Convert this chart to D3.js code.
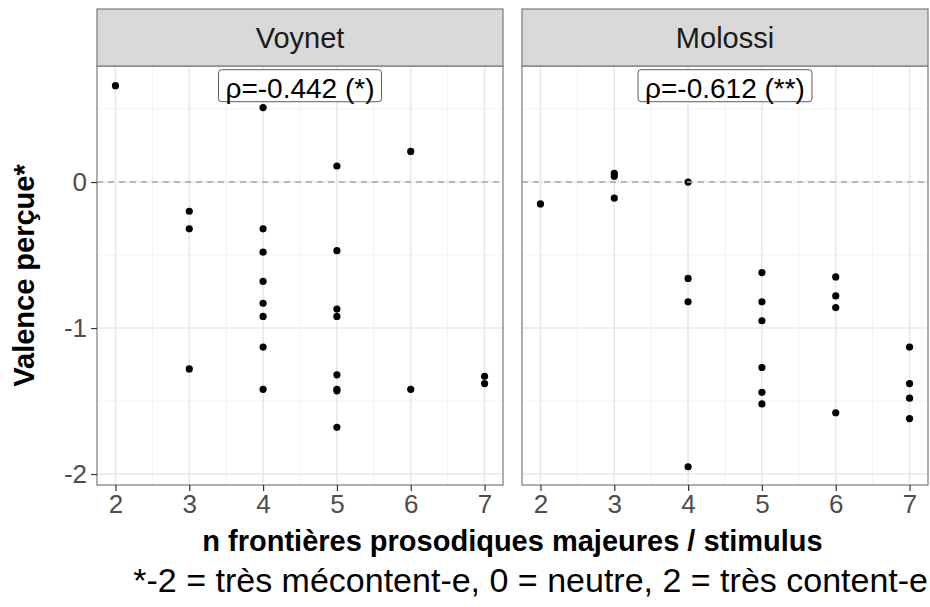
<!DOCTYPE html>
<html>
<head>
<meta charset="utf-8">
<script src="https://cdn.jsdelivr.net/npm/d3@7"></script>
<style>
  body { margin: 0; background: #fff; }
  text { font-family: "Liberation Sans", Arial, sans-serif; }
</style>
</head>
<body>
<script>
//panel names and correlation labels
var panels = ["Voynet", "Molossi"];
var rhoLabels = ["ρ=-0.442 (*)", "ρ=-0.612 (**)"];

//Voynet: n boundaries per stimulus and perceived valence
var voynetN = [2, 4, 6, 5, 3, 3, 4, 4, 5, 4, 4, 4, 5, 5, 4, 3, 4, 5, 5, 5, 6, 7, 7, 5];
var voynetValence = [0.66, 0.51, 0.21, 0.11, -0.20, -0.32, -0.32, -0.48, -0.47, -0.68, -0.83, -0.92,
    -0.87, -0.92, -1.13, -1.28, -1.42, -1.32, -1.42, -1.43, -1.42, -1.33, -1.38, -1.68];

//Molossi
var molossiN = [3, 3, 4, 2, 3, 4, 4, 5, 5, 5, 5, 5, 5, 6, 6, 6, 6, 7, 7, 7, 7, 4];
var molossiValence = [0.06, 0.04, 0.0, -0.15, -0.11, -0.66, -0.82, -0.62, -0.82, -0.95, -1.27, -1.44,
    -1.52, -0.65, -0.78, -0.86, -1.58, -1.13, -1.38, -1.48, -1.62, -1.95];

//ticks
var xTicks = [2, 3, 4, 5, 6, 7];
var xMinor = [2.5, 3.5, 4.5, 5.5, 6.5];
var yTicks = [-2, -1, 0];
var yMinor = [-1.5, -0.5, 0.5];

var w = 930, h = 607;
var panelTop = 66, panelBottom = 485, stripTop = 9;
var panelX = [[97, 503], [522, 928]];

var svg = d3.select("body").append("svg")
    .attr("width", w)
    .attr("height", h);

//shared y scale
var y = d3.scaleLinear()
    .domain([-2.075, 0.795])
    .range([panelBottom, panelTop]);

var series = [
    { n: voynetN, v: voynetValence },
    { n: molossiN, v: molossiValence }
];

panels.forEach(function (name, i) {
    var x = d3.scaleLinear()
        .domain([1.75, 7.25])
        .range(panelX[i]);
    var x0 = panelX[i][0], x1 = panelX[i][1];
    var g = svg.append("g").attr("class", "panel");

    //background
    g.append("rect")
        .attr("x", x0).attr("y", panelTop)
        .attr("width", x1 - x0).attr("height", panelBottom - panelTop)
        .style("fill", "#fff");

    //minor grid
    g.selectAll(".xminor").data(xMinor).enter().append("line")
        .attr("x1", function (d) { return x(d); })
        .attr("x2", function (d) { return x(d); })
        .attr("y1", panelTop).attr("y2", panelBottom)
        .style("stroke", "#f2f2f2").style("stroke-width", 1);
    g.selectAll(".yminor").data(yMinor).enter().append("line")
        .attr("y1", function (d) { return y(d); })
        .attr("y2", function (d) { return y(d); })
        .attr("x1", x0).attr("x2", x1)
        .style("stroke", "#f2f2f2").style("stroke-width", 1);

    //major grid
    g.selectAll(".xmajor").data(xTicks).enter().append("line")
        .attr("x1", function (d) { return x(d); })
        .attr("x2", function (d) { return x(d); })
        .attr("y1", panelTop).attr("y2", panelBottom)
        .style("stroke", "#e8e8e8").style("stroke-width", 1.6);
    g.selectAll(".ymajor").data(yTicks).enter().append("line")
        .attr("y1", function (d) { return y(d); })
        .attr("y2", function (d) { return y(d); })
        .attr("x1", x0).attr("x2", x1)
        .style("stroke", "#e8e8e8").style("stroke-width", 1.6);

    //points
    var s = series[i];
    g.selectAll(".pt").data(s.n).enter().append("circle")
        .attr("cx", function (d) { return x(d); })
        .attr("cy", function (d, j) { return y(s.v[j]); })
        .attr("r", 3.6)
        .style("fill", "#000");

    //dashed zero line
    g.append("line")
        .attr("x1", x0).attr("x2", x1)
        .attr("y1", y(0)).attr("y2", y(0))
        .style("stroke", "#a6a6a6")
        .style("stroke-width", 1.6)
        .style("stroke-dasharray", "6,5");

    //correlation label
    var cx = x(4.5), cy = y(0.66);
    var box = g.append("rect")
        .attr("rx", 3).attr("ry", 3)
        .style("fill", "#fff")
        .style("stroke", "#333")
        .style("stroke-width", 0.8);
    var lbl = g.append("text")
        .attr("x", cx).attr("y", cy + 12)
        .attr("text-anchor", "middle")
        .style("font-size", "28px")
        .style("fill", "#000")
        .text(rhoLabels[i]);
    var tw = lbl.node().getComputedTextLength();
    box.attr("x", cx - tw / 2 - 7).attr("width", tw + 14)
        .attr("y", cy - 16).attr("height", 32);

    //panel border
    g.append("rect")
        .attr("x", x0).attr("y", panelTop)
        .attr("width", x1 - x0).attr("height", panelBottom - panelTop)
        .style("fill", "none").style("stroke", "#7a7a7a").style("stroke-width", 1.2);

    //strip
    g.append("rect")
        .attr("x", x0).attr("y", stripTop)
        .attr("width", x1 - x0).attr("height", panelTop - stripTop)
        .style("fill", "#d9d9d9").style("stroke", "#7a7a7a").style("stroke-width", 1.2);
    g.append("text")
        .attr("x", (x0 + x1) / 2).attr("y", (stripTop + panelTop) / 2 + 10)
        .attr("text-anchor", "middle")
        .style("font-size", "29px")
        .style("fill", "#1a1a1a")
        .text(name);

    //x axis
    var xAxis = d3.axisBottom(x).tickValues(xTicks).tickSize(6).tickPadding(4)
        .tickFormat(d3.format("d"));
    var ax = svg.append("g")
        .attr("class", "axis")
        .attr("transform", "translate(0," + panelBottom + ")")
        .call(xAxis);
    ax.select(".domain").remove();
    ax.selectAll(".tick line").style("stroke", "#333").style("stroke-width", 1.2);
    ax.selectAll(".tick text")
        .style("font-size", "26px").style("fill", "#4d4d4d")
        .style("font-family", "Liberation Sans, Arial, sans-serif");
});

//y axis on the left panel
var yAxis = d3.axisLeft(y).tickValues(yTicks).tickSize(6).tickPadding(4)
    .tickFormat(d3.format("d"));
var ay = svg.append("g")
    .attr("class", "axis")
    .attr("transform", "translate(" + panelX[0][0] + ",0)")
    .call(yAxis);
ay.select(".domain").remove();
ay.selectAll(".tick line").style("stroke", "#333").style("stroke-width", 1.2);
ay.selectAll(".tick text")
    .style("font-size", "26px").style("fill", "#4d4d4d")
    .style("font-family", "Liberation Sans, Arial, sans-serif")
    .text(function (d) { return d === 0 ? "0" : String(d); });

//axis titles
svg.append("text")
    .attr("transform", "translate(34," + (panelTop + panelBottom) / 2 + ") rotate(-90)")
    .attr("text-anchor", "middle")
    .style("font-size", "29px").style("font-weight", "bold")
    .text("Valence perçue*");

svg.append("text")
    .attr("x", (panelX[0][0] + panelX[1][1]) / 2)
    .attr("y", 551)
    .attr("text-anchor", "middle")
    .style("font-size", "29px").style("font-weight", "bold")
    .text("n frontières prosodiques majeures / stimulus");

svg.append("text")
    .attr("x", 928)
    .attr("y", 592)
    .attr("text-anchor", "end")
    .style("font-size", "34px")
    .text("*-2 = très mécontent-e, 0 = neutre, 2 = très content-e");
</script>
</body>
</html>
